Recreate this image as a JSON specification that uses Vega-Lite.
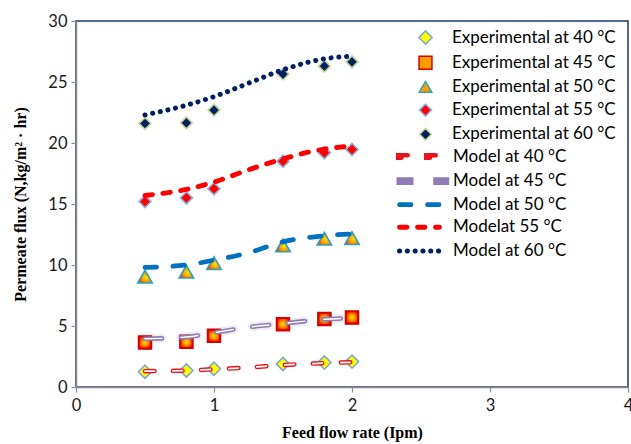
{
  "$schema": "https://vega.github.io/schema/vega-lite/v6.json",
  "width": 552,
  "height": 366,
  "autosize": {"type": "none"},
  "padding": {"left": 76, "top": 21, "right": 3, "bottom": 57},
  "background": "white",
  "config": {
    "view": {"stroke": "#1F3A78", "strokeWidth": 1.5},
    "font": "Lato",
    "axis": {
      "grid": false,
      "domainColor": "#8C8C8C",
      "domainWidth": 1.5,
      "tickColor": "#8C8C8C",
      "tickWidth": 1.2,
      "tickSize": 5,
      "labelFont": "Lato",
      "labelFontSize": 16.5,
      "labelColor": "#1a1a1a",
      "labelFlush": false,
      "titleFont": "Liberation Serif",
      "titleFontSize": 16,
      "titleFontWeight": "bold",
      "titleColor": "#000000"
    },
    "legend": {
      "labelFont": "Lato",
      "labelFontSize": 17,
      "labelColor": "#000000",
      "labelLimit": 300,
      "padding": 0
    }
  },
  "datasets": {
    "experimental": [
      {"flow": 0.5, "flux": 1.25, "series": "Experimental at 40 °C"},
      {"flow": 0.8, "flux": 1.35, "series": "Experimental at 40 °C"},
      {"flow": 1.0, "flux": 1.5, "series": "Experimental at 40 °C"},
      {"flow": 1.5, "flux": 1.88, "series": "Experimental at 40 °C"},
      {"flow": 1.8, "flux": 2.0, "series": "Experimental at 40 °C"},
      {"flow": 2.0, "flux": 2.08, "series": "Experimental at 40 °C"},
      {"flow": 0.5, "flux": 3.65, "series": "Experimental at 45 °C"},
      {"flow": 0.8, "flux": 3.7, "series": "Experimental at 45 °C"},
      {"flow": 1.0, "flux": 4.2, "series": "Experimental at 45 °C"},
      {"flow": 1.5, "flux": 5.15, "series": "Experimental at 45 °C"},
      {"flow": 1.8, "flux": 5.58, "series": "Experimental at 45 °C"},
      {"flow": 2.0, "flux": 5.7, "series": "Experimental at 45 °C"},
      {"flow": 0.5, "flux": 9.05, "series": "Experimental at 50 °C"},
      {"flow": 0.8, "flux": 9.45, "series": "Experimental at 50 °C"},
      {"flow": 1.0, "flux": 10.15, "series": "Experimental at 50 °C"},
      {"flow": 1.5, "flux": 11.6, "series": "Experimental at 50 °C"},
      {"flow": 1.8, "flux": 12.15, "series": "Experimental at 50 °C"},
      {"flow": 2.0, "flux": 12.2, "series": "Experimental at 50 °C"},
      {"flow": 0.5, "flux": 15.2, "series": "Experimental at 55 °C"},
      {"flow": 0.8, "flux": 15.5, "series": "Experimental at 55 °C"},
      {"flow": 1.0, "flux": 16.25, "series": "Experimental at 55 °C"},
      {"flow": 1.5, "flux": 18.5, "series": "Experimental at 55 °C"},
      {"flow": 1.8, "flux": 19.2, "series": "Experimental at 55 °C"},
      {"flow": 2.0, "flux": 19.47, "series": "Experimental at 55 °C"},
      {"flow": 0.5, "flux": 21.6, "series": "Experimental at 60 °C"},
      {"flow": 0.8, "flux": 21.65, "series": "Experimental at 60 °C"},
      {"flow": 1.0, "flux": 22.7, "series": "Experimental at 60 °C"},
      {"flow": 1.5, "flux": 25.65, "series": "Experimental at 60 °C"},
      {"flow": 1.8, "flux": 26.3, "series": "Experimental at 60 °C"},
      {"flow": 2.0, "flux": 26.65, "series": "Experimental at 60 °C"}
    ],
    "model": [
      {"flow": 0.5, "flux": 1.3, "model": "Model at 40 °C"},
      {"flow": 0.8, "flux": 1.35, "model": "Model at 40 °C"},
      {"flow": 1.0, "flux": 1.45, "model": "Model at 40 °C"},
      {"flow": 1.25, "flux": 1.6, "model": "Model at 40 °C"},
      {"flow": 1.5, "flux": 1.8, "model": "Model at 40 °C"},
      {"flow": 1.8, "flux": 1.96, "model": "Model at 40 °C"},
      {"flow": 2.0, "flux": 2.03, "model": "Model at 40 °C"},
      {"flow": 0.5, "flux": 3.95, "model": "Model at 45 °C"},
      {"flow": 0.8, "flux": 4.1, "model": "Model at 45 °C"},
      {"flow": 1.0, "flux": 4.45, "model": "Model at 45 °C"},
      {"flow": 1.25, "flux": 4.9, "model": "Model at 45 °C"},
      {"flow": 1.5, "flux": 5.2, "model": "Model at 45 °C"},
      {"flow": 1.8, "flux": 5.55, "model": "Model at 45 °C"},
      {"flow": 2.0, "flux": 5.65, "model": "Model at 45 °C"},
      {"flow": 0.5, "flux": 9.8, "model": "Model at 50 °C"},
      {"flow": 0.8, "flux": 10.0, "model": "Model at 50 °C"},
      {"flow": 1.0, "flux": 10.4, "model": "Model at 50 °C"},
      {"flow": 1.25, "flux": 11.0, "model": "Model at 50 °C"},
      {"flow": 1.5, "flux": 11.9, "model": "Model at 50 °C"},
      {"flow": 1.8, "flux": 12.4, "model": "Model at 50 °C"},
      {"flow": 2.0, "flux": 12.55, "model": "Model at 50 °C"},
      {"flow": 0.5, "flux": 15.7, "model": "Modelat 55 °C"},
      {"flow": 0.8, "flux": 16.2, "model": "Modelat 55 °C"},
      {"flow": 1.0, "flux": 16.8, "model": "Modelat 55 °C"},
      {"flow": 1.25, "flux": 17.8, "model": "Modelat 55 °C"},
      {"flow": 1.5, "flux": 18.7, "model": "Modelat 55 °C"},
      {"flow": 1.8, "flux": 19.5, "model": "Modelat 55 °C"},
      {"flow": 2.0, "flux": 19.75, "model": "Modelat 55 °C"},
      {"flow": 0.5, "flux": 22.3, "model": "Model at 60 °C"},
      {"flow": 0.8, "flux": 23.1, "model": "Model at 60 °C"},
      {"flow": 1.0, "flux": 23.8, "model": "Model at 60 °C"},
      {"flow": 1.25, "flux": 24.9, "model": "Model at 60 °C"},
      {"flow": 1.5, "flux": 26.0, "model": "Model at 60 °C"},
      {"flow": 1.8, "flux": 26.9, "model": "Model at 60 °C"},
      {"flow": 1.97, "flux": 27.1, "model": "Model at 60 °C"}
    ]
  },
  "encoding": {
    "x": {
      "field": "flow",
      "type": "quantitative",
      "scale": {"domain": [0, 4], "nice": false, "zero": false},
      "axis": {"title": "Feed flow rate (Ipm)", "values": [0, 1, 2, 3, 4], "format": "d", "labelPadding": 5, "titlePadding": 11}
    },
    "y": {
      "field": "flux",
      "type": "quantitative",
      "scale": {"domain": [0, 30], "nice": false},
      "axis": {"title": "Permeate flux (N,kg/m² · hr)", "values": [0, 5, 10, 15, 20, 25, 30], "format": "d", "labelPadding": 4, "titlePadding": 19}
    }
  },
  "layer": [
    {
      "data": {"name": "experimental"},
      "mark": {"type": "point", "filled": true, "opacity": 1, "strokeWidth": 1.6},
      "encoding": {
        "shape": {
          "field": "series", "type": "nominal",
          "scale": {
            "domain": ["Experimental at 40 °C", "Experimental at 45 °C", "Experimental at 50 °C", "Experimental at 55 °C", "Experimental at 60 °C"],
            "range": ["diamond", "square", "triangle-up", "diamond", "diamond"]
          },
          "legend": {"title": null, "orient": "none", "legendX": 341, "legendY": 8, "labelOffset": 18, "rowPadding": 5.2,
            "encode": {"symbols": {"update": {"fill": {"signal": "datum.value === 'Experimental at 45 °C' ? {gradient: 'radial', x1: 0.5, y1: 0.5, r1: 0, x2: 0.5, y2: 0.5, r2: 0.55, stops: [{offset: 0, color: '#FFE600'}, {offset: 0.45, color: '#FF9C00'}, {offset: 1, color: '#F01E00'}]} : datum.value === 'Experimental at 50 °C' ? {gradient: 'radial', x1: 0.6, y1: 0.55, r1: 0, x2: 0.6, y2: 0.55, r2: 0.6, stops: [{offset: 0, color: '#FFE600'}, {offset: 0.5, color: '#FF9C00'}, {offset: 1, color: '#F01E00'}]} : scale('fill', datum.value)"}}}}}
        },
        "fill": {
          "field": "series", "type": "nominal",
          "scale": {
            "domain": ["Experimental at 40 °C", "Experimental at 45 °C", "Experimental at 50 °C", "Experimental at 55 °C", "Experimental at 60 °C"],
            "range": ["#FFFF00", "#FF9C00", "#FF9C00", "#FF0000", "#002060"]
          },
          "legend": {"title": null, "orient": "none", "legendX": 341, "legendY": 8, "labelOffset": 18, "rowPadding": 5.2}
        },
        "stroke": {
          "field": "series", "type": "nominal",
          "scale": {
            "domain": ["Experimental at 40 °C", "Experimental at 45 °C", "Experimental at 50 °C", "Experimental at 55 °C", "Experimental at 60 °C"],
            "range": ["#7FA7D6", "#D90000", "#2FA3BC", "#8DB4E2", "#C4D79B"]
          },
          "legend": {"title": null, "orient": "none", "legendX": 341, "legendY": 8, "labelOffset": 18, "rowPadding": 5.2}
        },
        "size": {
          "field": "series", "type": "nominal",
          "scale": {
            "domain": ["Experimental at 40 °C", "Experimental at 45 °C", "Experimental at 50 °C", "Experimental at 55 °C", "Experimental at 60 °C"],
            "range": [175, 140, 210, 175, 190]
          },
          "legend": {"title": null, "orient": "none", "legendX": 341, "legendY": 8, "labelOffset": 18, "rowPadding": 5.2}
        }
      }
    },
    {
      "data": {"name": "experimental"},
      "transform": [{"filter": "datum.series === 'Experimental at 45 °C'"}],
      "mark": {
        "type": "point", "shape": "square", "size": 140, "filled": true, "opacity": 1, "strokeWidth": 1.6, "stroke": "#D90000",
        "fill": {"gradient": "radial", "x1": 0.5, "y1": 0.5, "r1": 0, "x2": 0.5, "y2": 0.5, "r2": 0.55, "stops": [{"offset": 0, "color": "#FFE600"}, {"offset": 0.45, "color": "#FF9C00"}, {"offset": 1, "color": "#F01E00"}]}
      },
      "encoding": {}
    },
    {
      "data": {"name": "experimental"},
      "transform": [{"filter": "datum.series === 'Experimental at 50 °C'"}],
      "mark": {
        "type": "point", "shape": "triangle-up", "size": 210, "filled": true, "opacity": 1, "strokeWidth": 1.6, "stroke": "#2FA3BC",
        "fill": {"gradient": "radial", "x1": 0.6, "y1": 0.55, "r1": 0, "x2": 0.6, "y2": 0.55, "r2": 0.6, "stops": [{"offset": 0, "color": "#FFE600"}, {"offset": 0.5, "color": "#FF9C00"}, {"offset": 1, "color": "#F01E00"}]}
      },
      "encoding": {}
    },
    {
      "data": {"name": "model"},
      "transform": [{"filter": "datum.model === 'Model at 45 °C'"}],
      "mark": {"type": "line", "interpolate": "monotone", "color": "#777777", "strokeWidth": 9, "opacity": 0.12, "strokeCap": "round", "strokeDash": [17, 19]},
      "encoding": {}
    },
    {
      "data": {"name": "model"},
      "mark": {"type": "line", "interpolate": "monotone", "strokeCap": "round"},
      "encoding": {
        "color": {
          "field": "model", "type": "nominal",
          "scale": {
            "domain": ["Model at 40 °C", "Model at 45 °C", "Model at 50 °C", "Modelat 55 °C", "Model at 60 °C"],
            "range": ["#E8141B", "#8F7BB5", "#0070C0", "#FF0000", "#002060"]
          },
          "legend": {"title": null, "orient": "none", "legendX": 335, "legendY": 127, "symbolType": "M-4,0H4", "symbolSize": 100, "labelOffset": 25, "rowPadding": 2.6,
            "encode": {"symbols": {"update": {
              "strokeCap": {"signal": "datum.value === 'Model at 45 °C' ? 'butt' : 'round'"},
              "shape": {"signal": "datum.value === 'Model at 40 °C' ? 'M-4.26,-0.26H-1.4V0.26H-4.26Z M1.34,-0.26H4.26V0.26H1.34Z' : datum.value === 'Model at 45 °C' ? 'M-4.6,-0.3H-0.06M-4.6,0.3H-0.06M2.74,-0.3H5.94M2.74,0.3H5.94' : 'M-4,0H4'"},
              "fill": {"signal": "datum.value === 'Model at 40 °C' ? '#FFFFFF' : 'transparent'"},
              "strokeWidth": {"signal": "datum.value === 'Model at 40 °C' ? 1.4 : datum.value === 'Model at 45 °C' ? 1.3 : datum.value === 'Model at 60 °C' ? 3.2 : 4.5"},
              "strokeDash": {"signal": "datum.value === 'Model at 50 °C' ? [11.5, 16.5] : datum.value === 'Modelat 55 °C' ? [7.5, 10.5] : datum.value === 'Model at 60 °C' ? [0.1, 7.7] : []"}
            }}}}
        },
        "strokeDash": {
          "field": "model", "type": "nominal",
          "scale": {
            "domain": ["Model at 40 °C", "Model at 45 °C", "Model at 50 °C", "Modelat 55 °C", "Model at 60 °C"],
            "range": [[9.5, 18.5], [17, 19], [11.5, 16.5], [7.5, 10.5], [0.1, 7.7]]
          },
          "legend": null
        },
        "strokeWidth": {
          "field": "model", "type": "nominal",
          "scale": {
            "domain": ["Model at 40 °C", "Model at 45 °C", "Model at 50 °C", "Modelat 55 °C", "Model at 60 °C"],
            "range": [4.5, 5, 4.5, 4.5, 3.2]
          },
          "legend": null
        }
      }
    },
    {
      "data": {"name": "model"},
      "transform": [{"filter": "datum.model === 'Model at 40 °C'"}],
      "mark": {"type": "line", "interpolate": "monotone", "color": "#FFFFFF", "strokeWidth": 1.8, "strokeCap": "round", "strokeDash": [9.5, 18.5]},
      "encoding": {}
    },
    {
      "data": {"name": "model"},
      "transform": [{"filter": "datum.model === 'Model at 45 °C'"}],
      "mark": {"type": "line", "interpolate": "monotone", "color": "#FFFFFF", "strokeWidth": 1.4, "strokeCap": "round", "strokeDash": [17, 19]},
      "encoding": {}
    }
  ]
}
